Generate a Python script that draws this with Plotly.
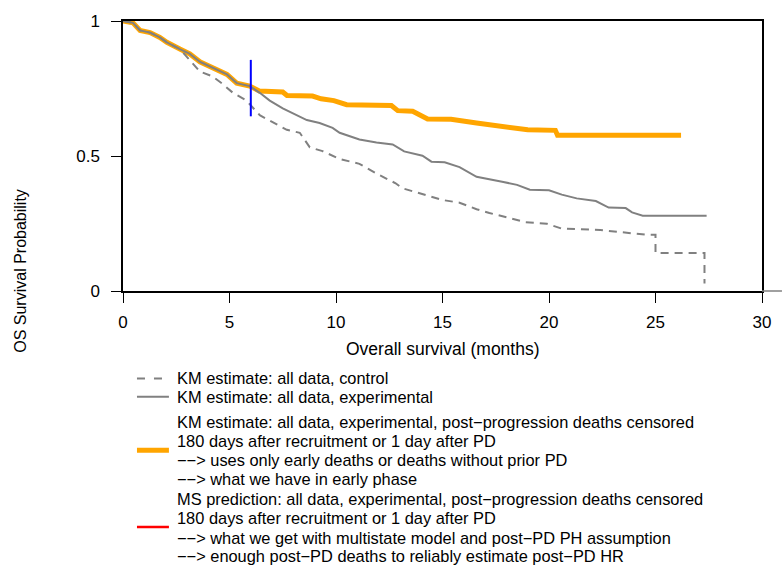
import plotly.graph_objects as go

# ---------------- data ----------------
exp_t = [0, 0.47, 0.80, 1.27, 1.73, 2.06, 2.67, 3.14, 3.61, 4.08, 4.88, 5.34, 5.95, 6.42, 6.89, 7.5,
         7.97, 8.63, 9.23, 9.84, 10.17, 11.1, 11.9, 12.66, 13.2, 14.06, 14.48, 15.1, 15.8, 16.6, 17.8,
         18.5, 19.1, 20.0, 20.6, 21.3, 22.2, 22.8, 23.6, 23.9, 24.4, 27.4]
exp_s = [1.0, 0.993, 0.965, 0.957, 0.939, 0.921, 0.896, 0.878, 0.849, 0.831, 0.802, 0.770, 0.759, 0.734,
         0.705, 0.676, 0.658, 0.633, 0.622, 0.604, 0.586, 0.561, 0.550, 0.543, 0.517, 0.501, 0.479, 0.477,
         0.459, 0.423, 0.405, 0.393, 0.375, 0.373, 0.357, 0.343, 0.333, 0.309, 0.307, 0.291, 0.279, 0.279]

ctl_t = [0, 0.47, 0.80, 1.27, 1.73, 2.06, 2.67, 3.14, 3.61, 4.2, 4.69, 5.16, 5.8, 6.42, 7.0, 7.69, 8.3,
         8.77, 9.37, 10.17, 11.1, 11.9, 12.8, 13.1, 14.4, 15.0, 15.8, 16.6, 17.2, 18.0, 18.9, 19.9, 20.6,
         22.4, 24.6, 25.0, 25.0, 27.3, 27.3]
ctl_s = [1.0, 0.993, 0.965, 0.957, 0.939, 0.921, 0.896, 0.855, 0.813, 0.795, 0.766, 0.734, 0.705, 0.651,
         0.626, 0.597, 0.586, 0.532, 0.518, 0.489, 0.471, 0.435, 0.399, 0.381, 0.351, 0.337, 0.327, 0.303,
         0.289, 0.273, 0.255, 0.249, 0.231, 0.226, 0.208, 0.208, 0.141, 0.141, 0.028]

cens_t = [0, 0.47, 0.80, 1.27, 1.73, 2.06, 2.67, 3.14, 3.61, 4.08, 4.88, 5.34, 5.95, 6.4, 7.5, 7.7, 8.9,
          9.3, 9.9, 10.5, 12.6, 12.9, 13.6, 14.3, 15.4, 16.6, 18.1, 19.0, 20.3, 20.4, 26.2]
cens_s = [1.0, 0.993, 0.965, 0.957, 0.939, 0.921, 0.896, 0.878, 0.849, 0.831, 0.802, 0.770, 0.759, 0.741,
          0.737, 0.724, 0.722, 0.712, 0.705, 0.690, 0.687, 0.668, 0.666, 0.637, 0.636, 0.622, 0.609, 0.597,
          0.595, 0.577, 0.577]

cutoff_month = [6, 6]
cutoff_range = [0.647, 0.856]

x_ticks = [0, 5, 10, 15, 20, 25, 30]
y_ticks = [0, 0.5, 1]
y_tick_labels = ["0", "0.5", "1"]

legend_blocks = [
    ["KM estimate: all data, control"],
    ["KM estimate: all data, experimental"],
    ["KM estimate: all data, experimental, post\u2212progression deaths censored",
     "180 days after recruitment or 1 day after PD",
     "\u2212\u2212> uses only early deaths or deaths without prior PD",
     "\u2212\u2212> what we have in early phase"],
    ["MS prediction: all data, experimental, post\u2212progression deaths censored",
     "180 days after recruitment or 1 day after PD",
     "\u2212\u2212> what we get with multistate model and post\u2212PD PH assumption",
     "\u2212\u2212> enough post\u2212PD deaths to reliably estimate post\u2212PD HR"],
]

GRAY = "#808080"
ORANGE = "#FFA500"
FONT = "Liberation Sans, Arial, sans-serif"

# ---------------- layout geometry (pixels) ----------------
W, H = 783, 575
L, R, T, B = 123, 20, 13, 284
PW, PH = W - L - R, H - T - B


def px(x):
    return (x - L) / PW


def py(y):
    return (H - B - y) / PH


fig = go.Figure()
fig.add_trace(go.Scatter(x=cens_t, y=cens_s, mode="lines", line=dict(color=ORANGE, width=5),
                         showlegend=False, hoverinfo="skip"))
fig.add_trace(go.Scatter(x=ctl_t, y=ctl_s, mode="lines",
                         line=dict(color=GRAY, width=2, dash="8px,6px"),
                         showlegend=False, hoverinfo="skip"))
fig.add_trace(go.Scatter(x=exp_t, y=exp_s, mode="lines", line=dict(color=GRAY, width=2),
                         showlegend=False, hoverinfo="skip"))
fig.add_trace(go.Scatter(x=cutoff_month, y=cutoff_range, mode="lines", line=dict(color="#0000FF", width=2),
                         showlegend=False, hoverinfo="skip"))

shapes = []
annotations = []

# extension of the bottom line beyond the plot region
shapes.append(dict(type="line", xref="paper", yref="paper", x0=1, x1=px(783), y0=0, y1=0,
                   line=dict(color=GRAY, width=1.5)))

# legend
line_y = [[381], [400], [426, 445, 465, 485], [505, 525, 545, 564]]
sym_y = [381, 400, 455, 534]
sym_styles = [dict(color=GRAY, width=2, dash="8px,9px"), dict(color=GRAY, width=2),
              dict(color=ORANGE, width=5), dict(color="#FF0000", width=2.5)]
for block, ys, sy, st in zip(legend_blocks, line_y, sym_y, sym_styles):
    shapes.append(dict(type="line", xref="paper", yref="paper", x0=px(137), x1=px(169),
                       y0=py(sy), y1=py(sy), line=st))
    for txt, yy in zip(block, ys):
        annotations.append(dict(text=txt, xref="paper", yref="paper", x=px(175), y=py(yy),
                                xanchor="left", yanchor="middle", showarrow=False,
                                font=dict(size=16.4, color="#000000", family=FONT)))

annotations.append(dict(text="Overall survival (months)", xref="paper", yref="paper",
                        x=px(443), y=py(351), xanchor="center", yanchor="middle", showarrow=False,
                        font=dict(size=17.5, color="#000000", family=FONT)))
annotations.append(dict(text="OS Survival Probability", xref="paper", yref="paper",
                        x=px(20), y=py(270), xanchor="center", yanchor="middle", showarrow=False,
                        textangle=-90, font=dict(size=16, color="#000000", family=FONT)))

fig.update_layout(
    width=W, height=H,
    margin=dict(l=L, r=R, t=T, b=B, pad=0),
    paper_bgcolor="white", plot_bgcolor="white",
    shapes=shapes, annotations=annotations,
    font=dict(family=FONT, size=17, color="#000000"),
    showlegend=False,
    xaxis=dict(range=[0, 30], tickvals=x_ticks, ticks="outside", ticklen=10, tickwidth=1.2,
               tickcolor="#000000", showline=True, linecolor="#000000", linewidth=1.5, mirror=True,
               showgrid=False, zeroline=False, ticklabelstandoff=5,
               tickfont=dict(size=17, family=FONT, color="#000000")),
    yaxis=dict(range=[0, 1], tickvals=y_ticks, ticktext=y_tick_labels, ticks="outside", ticklen=10,
               tickwidth=1.2, tickcolor="#000000", showline=True, linecolor="#000000", linewidth=1.5,
               mirror=True, showgrid=False, zeroline=False, ticklabelstandoff=8,
               tickfont=dict(size=17, family=FONT, color="#000000")),
)

fig.write_html("out.html")
